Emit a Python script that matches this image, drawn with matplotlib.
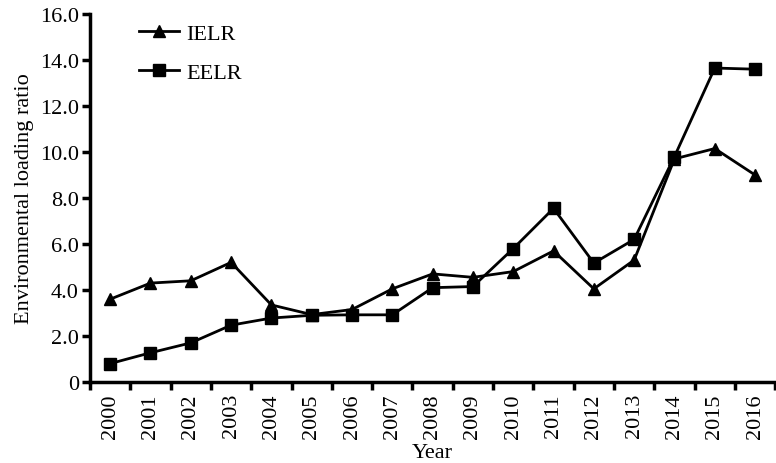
import matplotlib
matplotlib.use("Agg")
import matplotlib.pyplot as plt
from matplotlib.ticker import FixedLocator, FixedFormatter

years = [str(y) for y in range(2000, 2017)]
ielr = [3.6, 4.3, 4.4, 5.2, 3.35, 2.93, 3.15, 4.05, 4.7, 4.55, 4.8, 5.7, 4.05, 5.3, 9.7, 10.15, 9.0]
eelr = [0.8, 1.27, 1.7, 2.47, 2.78, 2.9, 2.92, 2.92, 4.1, 4.15, 5.8, 7.55, 5.17, 6.2, 9.8, 13.65, 13.6]
yticks = [0, 2, 4, 6, 8, 10, 12, 14, 16]
ytick_labels = ["0", "2.0", "4.0", "6.0", "8.0", "10.0", "12.0", "14.0", "16.0"]

plt.rcParams['font.family'] = ['Liberation Serif', 'DejaVu Serif']

fig = plt.figure(figsize=(7.76, 4.64), dpi=100)
ax = fig.add_axes([0.116, 0.1746, 0.883, 0.7931])

x = list(range(len(years)))
ax.plot(x, ielr, color='black', lw=2, marker='^', ms=9, label='IELR')
ax.plot(x, eelr, color='black', lw=2, marker='s', ms=9, label='EELR')

ax.set_xlim(-0.5, len(years) - 0.5)
ax.set_ylim(0, 16)
ax.yaxis.set_major_locator(FixedLocator(yticks))
ax.yaxis.set_major_formatter(FixedFormatter(ytick_labels))

ax.set_xticks([i + 0.5 for i in range(-1, len(years))])
ax.set_xticklabels([])
ax.set_xticks(x, minor=True)
ax.set_xticklabels(years, minor=True, rotation=90)
ax.tick_params(axis='x', which='minor', length=0, pad=8, labelsize=16)
ax.tick_params(axis='x', which='major', length=6, width=2.5, direction='out')
ax.tick_params(axis='y', length=6, width=2.5, direction='out', labelsize=16, pad=2)

for s in ['top', 'right']:
    ax.spines[s].set_visible(False)
for s in ['left', 'bottom']:
    ax.spines[s].set_linewidth(2.5)

ax.set_ylabel('Environmental loading ratio', fontsize=16, labelpad=4)
ax.set_xlabel('Year', fontsize=16)
ax.xaxis.set_label_coords(0.5, -0.165)

leg = ax.legend(loc='upper left', bbox_to_anchor=(0.043, 1.03), frameon=False, fontsize=16,
                handlelength=1.8, labelspacing=0.85, handletextpad=0.3)

fig.savefig('out.png', dpi=100)
